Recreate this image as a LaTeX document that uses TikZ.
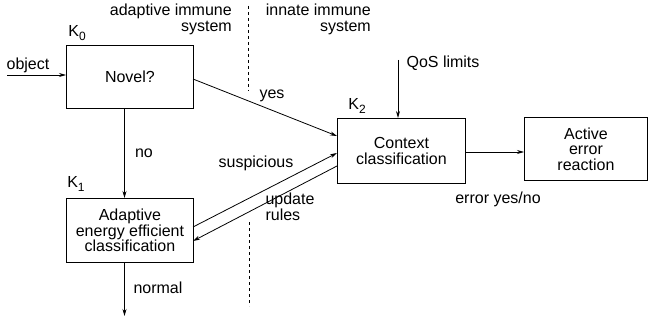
\documentclass[tikz,border=0pt]{standalone}
\usepackage{fontspec}
\setmainfont{Liberation Sans}
\usetikzlibrary{arrows.meta}
\newcommand{\ksub}[1]{K\raisebox{-4pt}{\fontsize{12}{12}\selectfont #1}}
\begin{document}
\begin{tikzpicture}[x=1pt,y=-1pt,
  every node/.style={font=\fontsize{16}{17.5}\selectfont, inner sep=0pt},
  box/.style={draw, line width=0.9pt, align=center, anchor=north west},
  lbl/.style={align=center},
  conn/.style={line width=0.8pt},
  arr/.style={conn, -{Stealth[length=7pt,width=4pt]}},
  divider/.style={line width=0.8pt, dash pattern=on 3pt off 3pt}]
\useasboundingbox (0,0) rectangle (648,326);
% boxes
\node[box, minimum width=127pt, minimum height=63pt] (novel) at (66,45) {Novel?};
\node[box, minimum width=127pt, minimum height=64pt] (adapt) at (66,198) {Adaptive\\[-2pt]energy efficient\\[-2pt]classification};
\node[box, minimum width=128pt, minimum height=65pt] (ctx) at (337,118) {Context\\[-2pt]classification};
\node[box, minimum width=123pt, minimum height=63pt] (act) at (524,117) {Active\\[-2pt]error\\[-2pt]reaction};
% K labels
\node[lbl] (k0) at (77,33) {\ksub{0}};
\node[lbl] (k1) at (76,184) {\ksub{1}};
\node[lbl] (k2) at (357,106) {\ksub{2}};
% titles
\node[align=right, anchor=north east] (adtitle) at (232,4) {adaptive immune\\[-2pt]system};
\node[align=right, anchor=north east] (intitle) at (371,4) {innate immune\\[-2pt]system};
% dividers
\coordinate (d1a) at (248,6);
\coordinate (d1b) at (248,91);
\coordinate (d2a) at (249,222);
\coordinate (d2b) at (249,306);
\draw[divider] (d1a) -- (d1b);
\draw[divider] (d2a) -- (d2b);
% object
\coordinate (objstart) at (7,75);
\draw[arr] (objstart) -- (novel.west |- objstart);
\node[lbl] (objl) at (28,65) {object};
% no
\coordinate (vx) at (124.5,0);
\draw[arr] (novel.south -| vx) -- (adapt.north -| vx);
\node[lbl] (nol) at (144,153) {no};
% normal
\coordinate (normend) at (124.5,316);
\draw[arr] (adapt.south -| vx) -- (normend);
\node[lbl] (norml) at (158,288) {normal};
% yes
\coordinate (yesA) at (193,79);
\coordinate (yesB) at (337,136);
\draw[arr] (yesA) -- (yesB);
\node[lbl] (yesl) at (272,96) {yes};
% suspicious
\coordinate (susA) at (193,227);
\coordinate (susB) at (337,153);
\draw[arr] (susA) -- (susB);
\node[lbl] (susl) at (256,163) {suspicious};
% update rules
\coordinate (updA) at (337,166);
\coordinate (updB) at (193,241);
\draw[arr] (updA) -- (updB);
\node[lbl, align=left] (updl) at (290,207) {update\\[-2pt]rules};
% QoS
\coordinate (qosstart) at (398,60);
\draw[arr] (qosstart) -- (ctx.north -| qosstart);
\node[lbl] (qosl) at (443,63) {QoS limits};
% ctx -> act
\draw[arr] (ctx.east |- 0,152) -- (act.west |- 0,152);
\node[lbl] (errl) at (498,199) {error yes/no};
\end{tikzpicture}
\end{document}
